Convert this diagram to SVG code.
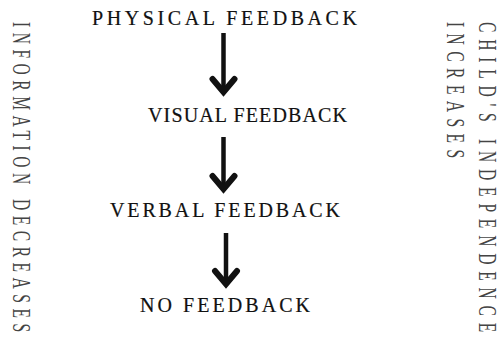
<svg xmlns="http://www.w3.org/2000/svg" width="502" height="346" viewBox="0 0 502 346">
<defs>
<style>
.t{font-family:"Liberation Serif","Times New Roman",serif;font-size:20px;fill:#111;stroke:#111;stroke-width:0.2}
.s{font-family:"Liberation Serif","Times New Roman",serif;font-size:26px;fill:#444}
.c{stroke:#111;stroke-width:4.5;fill:none}
</style>
<marker id="ah" markerUnits="userSpaceOnUse" markerWidth="40" markerHeight="40" refX="0" refY="0" orient="auto" overflow="visible">
<path d="M-14,-11 L-1,0 L-14,11" fill="none" stroke="#111" stroke-width="6" stroke-linejoin="miter" stroke-linecap="round"/>
</marker>
</defs>
<rect width="502" height="346" fill="#fff"/>
<g id="physical"><text class="t" x="92" y="25" textLength="265" lengthAdjust="spacing">PHYSICAL  FEEDBACK</text></g>
<g id="visual"><text class="t" x="148" y="122" textLength="199" lengthAdjust="spacing">VISUAL  FEEDBACK</text></g>
<g id="verbal"><text class="t" x="110" y="217" textLength="230" lengthAdjust="spacing">VERBAL  FEEDBACK</text></g>
<g id="none"><text class="t" x="140" y="312" textLength="170" lengthAdjust="spacing">NO  FEEDBACK</text></g>
<g id="connectors">
<line class="c" x1="223.5" y1="33" x2="223.5" y2="93" marker-end="url(#ah)"/>
<line class="c" x1="223.5" y1="137" x2="223.5" y2="190" marker-end="url(#ah)"/>
<line class="c" x1="226" y1="233" x2="226" y2="285" marker-end="url(#ah)"/>
</g>
<g id="info-label"><text class="s" transform="translate(13,22) rotate(90) scale(0.6,1)" textLength="517" lengthAdjust="spacing">INFORMATION DECREASES</text></g>
<g id="independence-label">
<text class="s" transform="translate(479,22) rotate(90) scale(0.6,1)" textLength="517" lengthAdjust="spacing">CHILD'S INDEPENDENCE</text>
<text class="s" transform="translate(447,22) rotate(90) scale(0.6,1)" textLength="227" lengthAdjust="spacing">INCREASES</text>
</g>
</svg>
